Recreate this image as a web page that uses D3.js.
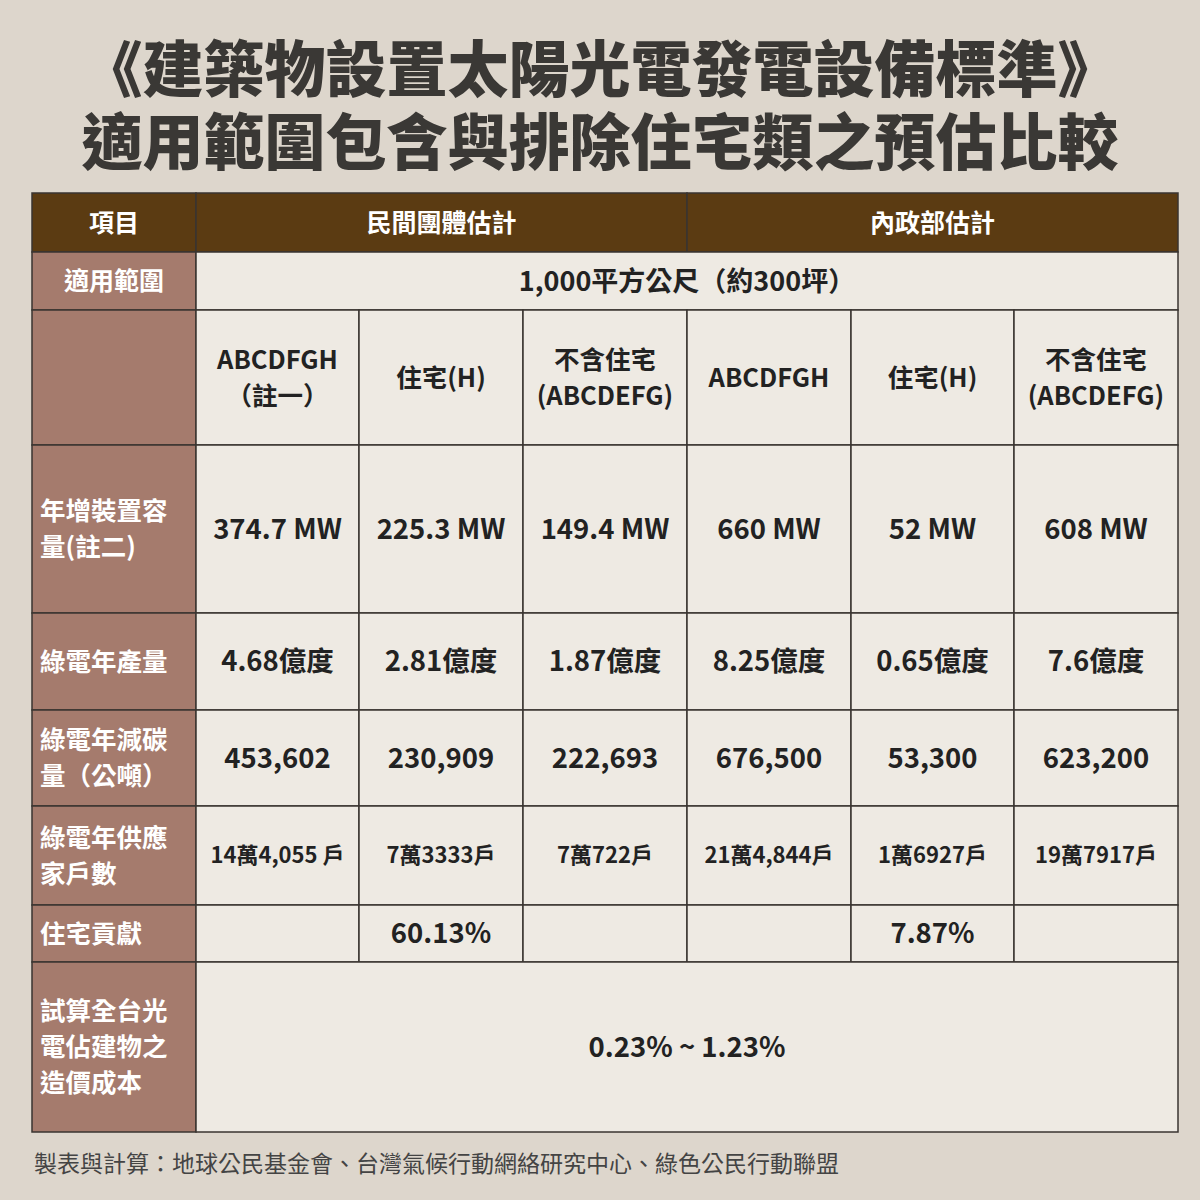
<!DOCTYPE html><html><head><meta charset="utf-8">
<script src="https://cdn.jsdelivr.net/npm/d3@7"></script>
<style>body{margin:0;background:#ddd6cc}</style></head><body>
<script>
const titleLines=["《建築物設置太陽光電發電設備標準》","適用範圍包含與排除住宅類之預估比較"];
const groups=["民間團體估計","內政部估計"];
const colHeads=[["ABCDFGH","（註一）"],["住宅(H)"],["不含住宅","(ABCDEFG)"],["ABCDFGH"],["住宅(H)"],["不含住宅","(ABCDEFG)"]];
const rowLabels=[["年增裝置容","量(註二)"],["綠電年產量"],["綠電年減碳","量（公噸）"],["綠電年供應","家戶數"],["住宅貢獻"],["試算全台光","電佔建物之","造價成本"]];
const capacity=["374.7 MW","225.3 MW","149.4 MW","660 MW","52 MW","608 MW"];
const generation=["4.68億度","2.81億度","1.87億度","8.25億度","0.65億度","7.6億度"];
const carbon=["453,602","230,909","222,693","676,500","53,300","623,200"];
const households=["14萬4,055 戶","7萬3333戶","7萬722戶","21萬4,844戶","1萬6927戶","19萬7917戶"];
const residential=["","60.13%","","","7.87%",""];
const scopeText="1,000平方公尺（約300坪）";
const costText="0.23% ~ 1.23%";
const footer="製表與計算：地球公民基金會、台灣氣候行動網絡研究中心、綠色公民行動聯盟";

const W=1200,H=1200,F="'Noto Sans CJK TC','Noto Sans',sans-serif";
const svg=d3.select("body").append("svg").attr("width",W).attr("height",H);
svg.append("rect").attr("width",W).attr("height",H).attr("fill","#ddd6cc");
svg.selectAll(".t").data(titleLines).join("text").attr("x",W/2).attr("y",(d,i)=>92+i*73)
 .attr("text-anchor","middle").attr("font-family",F).attr("font-weight",900).attr("font-size",61)
 .attr("fill","#3a3835").text(d=>d);

const rowEdges=[193,252,310,445,613,710,806,905,962,1132];
const colEdges=[32,196,359,523,687,851,1014,1178];
const brown="#5b3b12",rose="#a57b6d",body="#eeeae3",line="#3a3530";
const g=svg.append("g");
function cell(c0,c1,r0,r1,fill){g.append("rect").attr("x",colEdges[c0]).attr("y",rowEdges[r0]).attr("width",colEdges[c1]-colEdges[c0]).attr("height",rowEdges[r1]-rowEdges[r0]).attr("fill",fill).attr("stroke",line).attr("stroke-width",1.5);}
function txt(lines,x,y,size,color,anchor,lhf){const lh=size*(lhf||1.4);const t=g.append("text").attr("font-family",F).attr("font-weight",700).attr("font-size",size).attr("fill",color).attr("text-anchor",anchor||"middle");
 lines.forEach((l,i)=>t.append("tspan").attr("x",x).attr("y",y+(i-(lines.length-1)/2)*lh+size*0.36).text(l));}
const cx=(a,b)=>(colEdges[a]+colEdges[b])/2, cy=(a,b)=>(rowEdges[a]+rowEdges[b])/2;
cell(0,1,0,1,brown);cell(1,4,0,1,brown);cell(4,7,0,1,brown);
txt(["項目"],cx(0,1),cy(0,1),25,"#fff");
groups.forEach((s,i)=>txt([s],cx(1+3*i,4+3*i),cy(0,1),25,"#fff"));
cell(0,1,1,2,rose);txt(["適用範圍"],cx(0,1),cy(1,2),25,"#fff");
cell(1,7,1,2,body);txt([scopeText],cx(1,7),cy(1,2),27,"#222");
cell(0,1,2,3,rose);
colHeads.forEach((h,i)=>{cell(i+1,i+2,2,3,body);txt(h,cx(i+1,i+2),cy(2,3),25.5,"#222");});
const dataRows=[capacity,generation,carbon,households,residential];
dataRows.forEach((arr,r)=>{const ri=3+r;cell(0,1,ri,ri+1,rose);
 txt(rowLabels[r],40,cy(ri,ri+1),25.5,"#fff","start");
 arr.forEach((v,i)=>{cell(i+1,i+2,ri,ri+1,body);if(v)txt([v],cx(i+1,i+2),cy(ri,ri+1),r==3?22:27.5,"#222");});});
cell(0,1,8,9,rose);txt(rowLabels[5],40,cy(8,9),25.5,"#fff","start");
cell(1,7,8,9,body);txt([costText],cx(1,7),cy(8,9),27.5,"#222");
svg.append("text").attr("x",34).attr("y",1172).attr("font-family",F).attr("font-size",23).attr("fill","#444").text(footer);
</script></body></html>
